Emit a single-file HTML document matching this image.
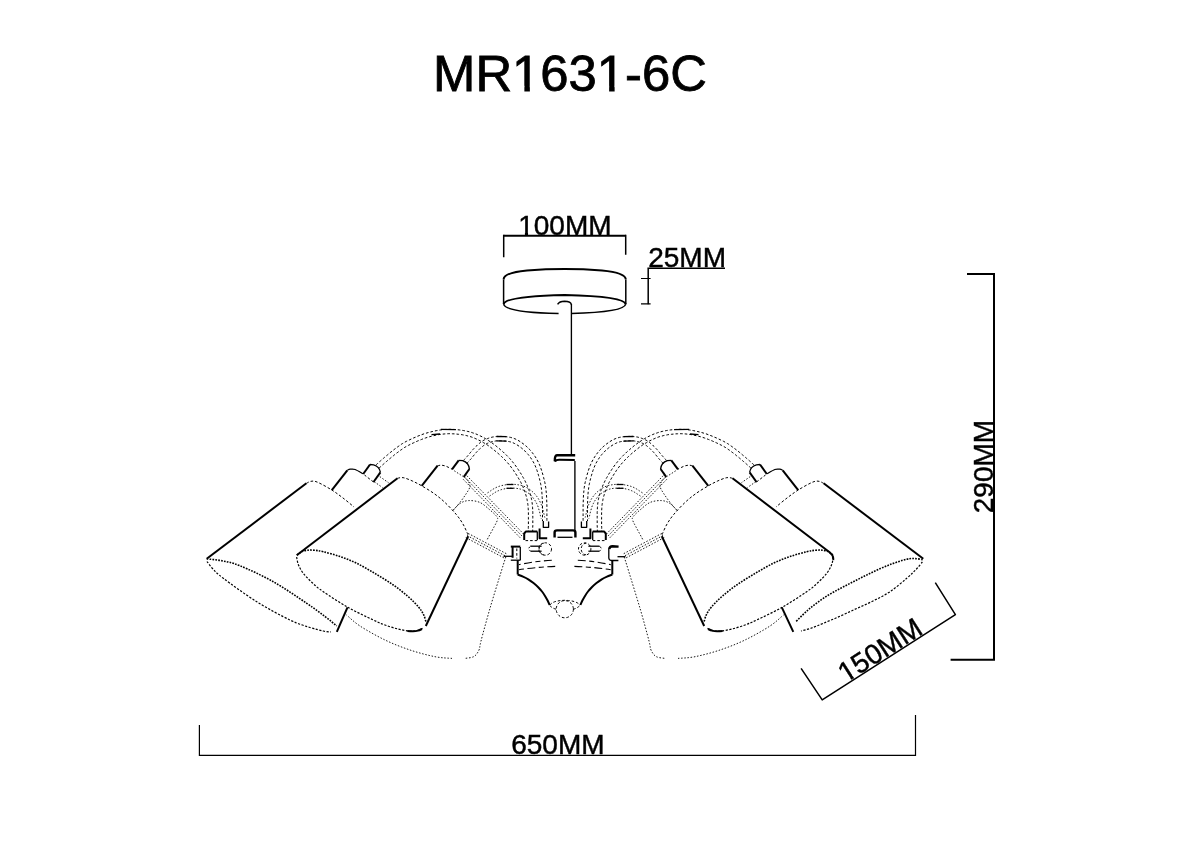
<!DOCTYPE html>
<html><head><meta charset="utf-8"><title>MR1631-6C</title>
<style>
html,body{margin:0;padding:0;background:#fff;}
body{width:1200px;height:848px;overflow:hidden;position:relative;font-family:"Liberation Sans",sans-serif;color:#000;}
svg{position:absolute;left:0;top:0;display:block;filter:grayscale(1);}
path,circle{fill:none;stroke:#000;stroke-linecap:butt;stroke-linejoin:round;}
.b{stroke-width:2;}
.bb{stroke-width:2.4;}
.m{stroke-width:1.3;}
.r{stroke-width:1.5;}
.rr{stroke-width:1.35;}
.h{stroke-width:1;stroke-dasharray:2.6 2;}
.hl{stroke-width:1.1;stroke-dasharray:8 3.5 5 3.5;}
.h2{stroke-width:.9;stroke-dasharray:1.5 1.7;}
.d{stroke-width:1.6;stroke-dasharray:1.7 1.2;}
.dl{stroke-width:1.2;stroke-dasharray:2.2 1.5;}
.dim{stroke-width:2;}
.dim1{stroke-width:1.2;}
text{font-family:"Liberation Sans",sans-serif;fill:#000;stroke:#000;stroke-width:.45;}
text.t{stroke-width:.8;}
rect.w{fill:#fff;stroke:none;}
</style></head><body>
<svg width="1200" height="848" viewBox="0 0 1200 848">
<rect x="0" y="0" width="1200" height="848" fill="#fff" stroke="none"/>
<text class="t" x="433.1" y="91.3" font-size="50.8">MR1631-6C</text><rect class="w" x="514.37" y="85.80" width="10.00" height="7.00"/><rect class="w" x="529.87" y="85.80" width="9.61" height="7.00"/><rect class="w" x="599.13" y="85.80" width="10.00" height="7.00"/><rect class="w" x="614.62" y="85.80" width="9.61" height="7.00"/>
<!-- 100MM -->
<text x="518.2" y="235" font-size="28">100MM</text><rect class="w" x="518.73" y="231.38" width="6.18" height="4.94"/><rect class="w" x="528.04" y="231.38" width="5.96" height="4.94"/>
<path class="dim" d="M503.5 235.8 L625.8 235.8"/>
<path class="r" d="M503.7 234.8 L503.7 257.3 M625.7 234.8 L625.7 254.8"/>
<!-- 25MM -->
<text x="648.2" y="266.6" font-size="28">25MM</text>
<path class="r" d="M647.4 268.2 L725 268.2 M648.2 268.2 L648.2 304.2"/>
<path class="dim1" d="M641 278.5 L650.6 278.5 M641 303.8 L650.6 303.8"/>
<!-- 290MM -->
<path class="dim" d="M967 274 L995 274 M994 273 L994 660.6 M950.6 659.7 L995 659.7"/>
<g transform="translate(992.6 513.2) rotate(-90)"><text x="0" y="0" font-size="28">290MM</text></g>
<!-- 650MM -->
<path class="dim1" d="M199.4 725 L199.4 756 M199 755.4 L916 755.4 M915.5 715 L915.5 756"/>
<text x="511.2" y="753.8" font-size="28">650MM</text>
<!-- 150MM -->
<g transform="translate(845.7 683.3) rotate(-32.6)"><text x="0" y="0" font-size="28">150MM</text><rect class="w" x="0.53" y="-3.62" width="6.18" height="4.94"/><rect class="w" x="9.84" y="-3.62" width="5.96" height="4.94"/></g>
<path class="r" d="M801.1 668.3 L822.2 699.9 L955.4 614.6 L935.3 582.6"/>
<!-- drawing -->
<path class="h" d="M379 468.1 L379.5 467.7 L380.1 467.1 L380.8 466.5 L381.7 465.7 L382.6 464.9 L383.5 464.1 L384.5 463.2 L385.5 462.3 L386.5 461.5 L387.4 460.7 L388.4 459.9 L389.4 459 L390.4 458.2 L391.4 457.3 L392.5 456.4 L393.6 455.6 L394.6 454.7 L395.7 453.9 L396.7 453.1 L397.8 452.3 L398.9 451.5 L399.9 450.8 L400.8 450 L401.8 449.4 L402.7 448.7 L403.7 448 L404.7 447.4 L405.9 446.7 L407.1 446 L408.5 445.3 L410.1 444.5 L411.7 443.7 L413.6 442.8 L415.4 442 L417.4 441.1 L419.4 440.3 L421.4 439.5 L423.4 438.7 L425.4 438 L427.3 437.4 L429.3 436.8 L431.2 436.3 L433.2 435.8 L435.1 435.4 L437.1 435 L439 434.6 L441 434.3 L442.9 434.1 L444.9 433.9 L446.8 433.8 L448.8 433.7 L450.7 433.7 L452.7 433.8 L454.7 433.9 L456.7 434.1 L458.7 434.3 L460.7 434.5 L462.6 434.8 L464.4 435.2 L466.2 435.5 L467.9 436 L469.6 436.4 L471.2 436.9 L472.8 437.5 L474.4 438.1 L475.9 438.8 L477.4 439.4 L478.9 440.2 L480.4 440.9 L481.9 441.7 L483.4 442.6 L484.9 443.4 L486.3 444.3 L487.8 445.3 L489.2 446.3 L490.6 447.3 L492 448.4 L493.4 449.5 L494.7 450.6 L496.1 451.7 L497.4 452.8 L498.8 454 L500.1 455.2 L501.4 456.4 L502.7 457.6 L504 458.9 L505.2 460.2 L506.4 461.5 L507.6 462.8 L508.8 464.2 L510 465.6 L511.1 467.1 L512.2 468.6 L513.4 470.2 L514.4 471.8 L515.5 473.4 L516.5 475 L517.5 476.5 L518.4 478.1 L519.3 479.6 L520.1 481 L520.9 482.5 L521.6 483.9 L522.2 485.3 L522.9 486.7 L523.5 488.1 L524 489.4 L524.6 490.8 L525 492.2 L525.5 493.7 L525.9 495.1 L526.3 496.4 L526.7 497.7 L527 499.1 L527.2 500.4 L527.5 501.8 L527.7 503.2 L527.9 504.7 L528.1 506.4 L528.2 508.2 L528.3 510.2 L528.4 512.5 L528.4 515.1 L528.4 517.7 L528.4 520.4 L528.4 523 L528.4 525.5 L528.3 527.7 L528.3 529.6 L528.3 531"/>
<path class="h" d="M751 468.1 L750.5 467.7 L749.9 467.1 L749.2 466.5 L748.3 465.7 L747.4 464.9 L746.5 464.1 L745.5 463.2 L744.5 462.3 L743.5 461.5 L742.6 460.7 L741.6 459.9 L740.6 459 L739.6 458.2 L738.6 457.3 L737.5 456.4 L736.4 455.6 L735.4 454.7 L734.3 453.9 L733.3 453.1 L732.2 452.3 L731.1 451.5 L730.1 450.8 L729.2 450 L728.2 449.4 L727.3 448.7 L726.3 448 L725.3 447.4 L724.1 446.7 L722.9 446 L721.5 445.3 L719.9 444.5 L718.3 443.7 L716.4 442.8 L714.6 442 L712.6 441.1 L710.6 440.3 L708.6 439.5 L706.6 438.7 L704.6 438 L702.7 437.4 L700.7 436.8 L698.8 436.3 L696.8 435.8 L694.9 435.4 L692.9 435 L691 434.6 L689 434.3 L687.1 434.1 L685.1 433.9 L683.2 433.8 L681.2 433.7 L679.3 433.7 L677.3 433.8 L675.3 433.9 L673.3 434.1 L671.3 434.3 L669.3 434.5 L667.4 434.8 L665.6 435.2 L663.8 435.5 L662.1 436 L660.4 436.4 L658.8 436.9 L657.2 437.5 L655.6 438.1 L654.1 438.8 L652.6 439.4 L651.1 440.2 L649.6 440.9 L648.1 441.7 L646.6 442.6 L645.1 443.4 L643.7 444.3 L642.2 445.3 L640.8 446.3 L639.4 447.3 L638 448.4 L636.6 449.5 L635.3 450.6 L633.9 451.7 L632.6 452.8 L631.2 454 L629.9 455.2 L628.6 456.4 L627.3 457.6 L626 458.9 L624.8 460.2 L623.6 461.5 L622.4 462.8 L621.2 464.2 L620 465.6 L618.9 467.1 L617.8 468.6 L616.6 470.2 L615.6 471.8 L614.5 473.4 L613.5 475 L612.5 476.5 L611.6 478.1 L610.7 479.6 L609.9 481 L609.1 482.5 L608.4 483.9 L607.8 485.3 L607.1 486.7 L606.5 488.1 L606 489.4 L605.4 490.8 L605 492.2 L604.5 493.7 L604.1 495.1 L603.7 496.4 L603.3 497.7 L603 499.1 L602.8 500.4 L602.5 501.8 L602.3 503.2 L602.1 504.7 L601.9 506.4 L601.8 508.2 L601.7 510.2 L601.6 512.5 L601.6 515.1 L601.6 517.7 L601.6 520.4 L601.6 523 L601.6 525.5 L601.7 527.7 L601.7 529.6 L601.7 531"/>
<path class="h" d="M376 464.9 L376.5 464.4 L377.2 463.9 L377.9 463.2 L378.7 462.4 L379.6 461.6 L380.6 460.8 L381.6 459.9 L382.6 459 L383.6 458.2 L384.6 457.3 L385.5 456.5 L386.5 455.7 L387.6 454.8 L388.6 453.9 L389.7 453 L390.8 452.1 L391.9 451.3 L393 450.4 L394.1 449.5 L395.2 448.7 L396.2 448 L397.2 447.2 L398.2 446.5 L399.2 445.8 L400.2 445.1 L401.3 444.3 L402.4 443.6 L403.7 442.9 L405 442.1 L406.5 441.3 L408.1 440.5 L409.9 439.7 L411.7 438.8 L413.7 437.9 L415.7 437.1 L417.7 436.2 L419.8 435.4 L421.9 434.6 L424 433.8 L426.1 433.2 L428.1 432.6 L430.1 432.1 L432.1 431.6 L434.2 431.1 L436.2 430.7 L438.3 430.3 L440.4 430 L442.4 429.7 L444.5 429.5 L446.6 429.4 L448.7 429.3 L450.8 429.3 L452.9 429.4 L455 429.5 L457.1 429.7 L459.2 429.9 L461.3 430.2 L463.3 430.5 L465.3 430.9 L467.2 431.3 L469 431.7 L470.9 432.2 L472.6 432.8 L474.3 433.4 L476 434 L477.7 434.7 L479.3 435.5 L480.9 436.2 L482.5 437 L484.1 437.9 L485.6 438.7 L487.2 439.7 L488.7 440.7 L490.2 441.7 L491.7 442.7 L493.2 443.8 L494.7 444.9 L496.1 446 L497.5 447.2 L498.9 448.3 L500.3 449.5 L501.7 450.7 L503.1 451.9 L504.4 453.2 L505.8 454.5 L507.1 455.8 L508.4 457.1 L509.7 458.5 L511 459.9 L512.2 461.4 L513.4 462.9 L514.6 464.4 L515.8 466 L517 467.7 L518.1 469.3 L519.2 471 L520.2 472.6 L521.3 474.2 L522.2 475.9 L523.1 477.4 L524 478.9 L524.8 480.5 L525.5 481.9 L526.2 483.4 L526.9 484.9 L527.5 486.4 L528.1 487.9 L528.7 489.3 L529.2 490.8 L529.7 492.3 L530.1 493.8 L530.6 495.3 L530.9 496.7 L531.3 498.1 L531.6 499.6 L531.8 501 L532.1 502.6 L532.3 504.2 L532.4 506 L532.6 507.8 L532.7 510 L532.8 512.4 L532.8 515 L532.8 517.7 L532.8 520.5 L532.8 523.1 L532.8 525.6 L532.7 527.8 L532.7 529.6 L532.7 531"/>
<path class="h" d="M754 464.9 L753.5 464.4 L752.8 463.9 L752.1 463.2 L751.3 462.4 L750.4 461.6 L749.4 460.8 L748.4 459.9 L747.4 459 L746.4 458.2 L745.4 457.3 L744.5 456.5 L743.5 455.7 L742.4 454.8 L741.4 453.9 L740.3 453 L739.2 452.1 L738.1 451.3 L737 450.4 L735.9 449.5 L734.8 448.7 L733.8 448 L732.8 447.2 L731.8 446.5 L730.8 445.8 L729.8 445.1 L728.7 444.3 L727.6 443.6 L726.3 442.9 L725 442.1 L723.5 441.3 L721.9 440.5 L720.1 439.7 L718.3 438.8 L716.3 437.9 L714.3 437.1 L712.3 436.2 L710.2 435.4 L708.1 434.6 L706 433.8 L703.9 433.2 L701.9 432.6 L699.9 432.1 L697.9 431.6 L695.8 431.1 L693.8 430.7 L691.7 430.3 L689.6 430 L687.6 429.7 L685.5 429.5 L683.4 429.4 L681.3 429.3 L679.2 429.3 L677.1 429.4 L675 429.5 L672.9 429.7 L670.8 429.9 L668.7 430.2 L666.7 430.5 L664.7 430.9 L662.8 431.3 L661 431.7 L659.1 432.2 L657.4 432.8 L655.7 433.4 L654 434 L652.3 434.7 L650.7 435.5 L649.1 436.2 L647.5 437 L645.9 437.9 L644.4 438.7 L642.8 439.7 L641.3 440.7 L639.8 441.7 L638.3 442.7 L636.8 443.8 L635.3 444.9 L633.9 446 L632.5 447.2 L631.1 448.3 L629.7 449.5 L628.3 450.7 L626.9 451.9 L625.6 453.2 L624.2 454.5 L622.9 455.8 L621.6 457.1 L620.3 458.5 L619 459.9 L617.8 461.4 L616.6 462.9 L615.4 464.4 L614.2 466 L613 467.7 L611.9 469.3 L610.8 471 L609.8 472.6 L608.7 474.2 L607.8 475.9 L606.9 477.4 L606 478.9 L605.2 480.5 L604.5 481.9 L603.8 483.4 L603.1 484.9 L602.5 486.4 L601.9 487.9 L601.3 489.3 L600.8 490.8 L600.3 492.3 L599.9 493.8 L599.4 495.3 L599.1 496.7 L598.7 498.1 L598.4 499.6 L598.2 501 L597.9 502.6 L597.7 504.2 L597.6 506 L597.4 507.8 L597.3 510 L597.2 512.4 L597.2 515 L597.2 517.7 L597.2 520.5 L597.2 523.1 L597.2 525.6 L597.3 527.8 L597.3 529.6 L597.3 531"/>
<path class="h" d="M466.6 463.5 L466.8 463.3 L467.1 463 L467.5 462.6 L467.8 462.2 L468.3 461.8 L468.7 461.3 L469.2 460.7 L469.8 460.2 L470.3 459.6 L470.9 458.9 L471.5 458.3 L472.1 457.5 L472.7 456.7 L473.4 455.9 L474.1 455 L474.8 454.2 L475.5 453.3 L476.2 452.5 L476.9 451.8 L477.6 451 L478.3 450.3 L479 449.6 L479.7 448.9 L480.4 448.3 L481.1 447.6 L481.9 447 L482.6 446.4 L483.3 445.8 L484 445.3 L484.7 444.9 L485.4 444.4 L486.1 444 L486.8 443.6 L487.5 443.3 L488.2 443 L489 442.7 L489.7 442.4 L490.4 442.2 L491.2 441.9 L492 441.7 L492.9 441.5 L493.7 441.3 L494.5 441.2 L495.4 441 L496.2 440.9 L497.1 440.8 L498 440.8 L498.9 440.8 L499.9 440.8 L500.9 440.8 L502 440.9 L503.2 440.9 L504.5 441 L505.7 441.1 L507 441.3 L508.3 441.5 L509.6 441.7 L510.8 442 L512 442.4 L513.1 442.8 L514.3 443.4 L515.5 444 L516.8 444.7 L518 445.5 L519.2 446.3 L520.4 447.2 L521.6 448.1 L522.8 449.1 L523.9 450.1 L525 451.1 L526 452.1 L527 453.2 L528 454.3 L528.9 455.4 L529.8 456.6 L530.7 457.8 L531.5 459.1 L532.3 460.4 L533.1 461.7 L533.9 463 L534.5 464.4 L535.2 465.8 L535.8 467.3 L536.4 468.9 L537 470.4 L537.5 472 L538 473.7 L538.5 475.3 L538.9 476.9 L539.4 478.5 L539.8 480.1 L540.1 481.7 L540.5 483.2 L540.8 484.7 L541.1 486.2 L541.3 487.8 L541.5 489.5 L541.8 491.2 L541.9 493.1 L542.1 495.2 L542.2 497.5 L542.3 500.1 L542.4 503 L542.5 506 L542.5 509.1 L542.5 512 L542.5 514.8 L542.5 517.3 L542.5 519.4 L542.5 521"/>
<path class="h" d="M663.4 463.5 L663.2 463.3 L662.9 463 L662.5 462.6 L662.2 462.2 L661.7 461.8 L661.3 461.3 L660.8 460.7 L660.2 460.2 L659.7 459.6 L659.1 458.9 L658.5 458.3 L657.9 457.5 L657.3 456.7 L656.6 455.9 L655.9 455 L655.2 454.2 L654.5 453.3 L653.8 452.5 L653.1 451.8 L652.4 451 L651.7 450.3 L651 449.6 L650.3 448.9 L649.6 448.3 L648.9 447.6 L648.1 447 L647.4 446.4 L646.7 445.8 L646 445.3 L645.3 444.9 L644.6 444.4 L643.9 444 L643.2 443.6 L642.5 443.3 L641.8 443 L641 442.7 L640.3 442.4 L639.6 442.2 L638.8 441.9 L638 441.7 L637.1 441.5 L636.3 441.3 L635.5 441.2 L634.6 441 L633.8 440.9 L632.9 440.8 L632 440.8 L631.1 440.8 L630.1 440.8 L629.1 440.8 L628 440.9 L626.8 440.9 L625.5 441 L624.3 441.1 L623 441.3 L621.7 441.5 L620.4 441.7 L619.2 442 L618 442.4 L616.9 442.8 L615.7 443.4 L614.5 444 L613.2 444.7 L612 445.5 L610.8 446.3 L609.6 447.2 L608.4 448.1 L607.2 449.1 L606.1 450.1 L605 451.1 L604 452.1 L603 453.2 L602 454.3 L601.1 455.4 L600.2 456.6 L599.3 457.8 L598.5 459.1 L597.7 460.4 L596.9 461.7 L596.1 463 L595.5 464.4 L594.8 465.8 L594.2 467.3 L593.6 468.9 L593 470.4 L592.5 472 L592 473.7 L591.5 475.3 L591.1 476.9 L590.6 478.5 L590.2 480.1 L589.9 481.7 L589.5 483.2 L589.2 484.7 L588.9 486.2 L588.7 487.8 L588.5 489.5 L588.2 491.2 L588.1 493.1 L587.9 495.2 L587.8 497.5 L587.7 500.1 L587.6 503 L587.5 506 L587.5 509.1 L587.5 512 L587.5 514.8 L587.5 517.3 L587.5 519.4 L587.5 521"/>
<path class="h" d="M463.4 460.5 L463.6 460.2 L463.9 459.9 L464.3 459.6 L464.7 459.2 L465.1 458.7 L465.5 458.3 L466 457.8 L466.5 457.2 L467 456.6 L467.5 456.1 L468.1 455.4 L468.7 454.7 L469.3 453.9 L470 453.1 L470.7 452.2 L471.4 451.4 L472.2 450.5 L472.9 449.6 L473.7 448.8 L474.4 448 L475.2 447.2 L475.9 446.5 L476.7 445.8 L477.4 445 L478.2 444.3 L479 443.6 L479.8 443 L480.6 442.3 L481.5 441.7 L482.3 441.1 L483.1 440.6 L484 440.2 L484.8 439.7 L485.7 439.3 L486.5 438.9 L487.4 438.6 L488.3 438.3 L489.1 438 L490 437.7 L491 437.5 L491.9 437.2 L492.8 437 L493.7 436.9 L494.7 436.7 L495.7 436.6 L496.7 436.5 L497.7 436.4 L498.8 436.4 L499.9 436.4 L501.1 436.4 L502.3 436.5 L503.5 436.5 L504.8 436.6 L506.2 436.7 L507.6 436.9 L509 437.1 L510.5 437.4 L512 437.8 L513.4 438.2 L514.9 438.8 L516.3 439.4 L517.6 440.1 L519 440.9 L520.4 441.8 L521.7 442.7 L523.1 443.7 L524.4 444.7 L525.6 445.7 L526.9 446.8 L528 447.9 L529.2 449.1 L530.3 450.2 L531.3 451.4 L532.3 452.7 L533.3 454 L534.3 455.3 L535.2 456.7 L536.1 458.1 L536.9 459.5 L537.7 461 L538.5 462.5 L539.2 464.1 L539.9 465.7 L540.5 467.3 L541.1 469 L541.7 470.7 L542.2 472.4 L542.7 474.1 L543.2 475.8 L543.6 477.5 L544 479.1 L544.4 480.7 L544.8 482.3 L545.1 483.9 L545.4 485.5 L545.7 487.2 L545.9 488.9 L546.1 490.8 L546.3 492.7 L546.5 494.8 L546.6 497.2 L546.7 500 L546.8 502.9 L546.9 506 L546.9 509.1 L546.9 512 L546.9 514.8 L546.9 517.3 L546.9 519.4 L546.9 521"/>
<path class="h" d="M666.6 460.5 L666.4 460.2 L666.1 459.9 L665.7 459.6 L665.3 459.2 L664.9 458.7 L664.5 458.3 L664 457.8 L663.5 457.2 L663 456.6 L662.5 456.1 L661.9 455.4 L661.3 454.7 L660.7 453.9 L660 453.1 L659.3 452.2 L658.6 451.4 L657.8 450.5 L657.1 449.6 L656.3 448.8 L655.6 448 L654.8 447.2 L654.1 446.5 L653.3 445.8 L652.6 445 L651.8 444.3 L651 443.6 L650.2 443 L649.4 442.3 L648.5 441.7 L647.7 441.1 L646.9 440.6 L646 440.2 L645.2 439.7 L644.3 439.3 L643.5 438.9 L642.6 438.6 L641.7 438.3 L640.9 438 L640 437.7 L639 437.5 L638.1 437.2 L637.2 437 L636.3 436.9 L635.3 436.7 L634.3 436.6 L633.3 436.5 L632.3 436.4 L631.2 436.4 L630.1 436.4 L628.9 436.4 L627.7 436.5 L626.5 436.5 L625.2 436.6 L623.8 436.7 L622.4 436.9 L621 437.1 L619.5 437.4 L618 437.8 L616.6 438.2 L615.1 438.8 L613.7 439.4 L612.4 440.1 L611 440.9 L609.6 441.8 L608.3 442.7 L606.9 443.7 L605.6 444.7 L604.4 445.7 L603.1 446.8 L602 447.9 L600.8 449.1 L599.7 450.2 L598.7 451.4 L597.7 452.7 L596.7 454 L595.7 455.3 L594.8 456.7 L593.9 458.1 L593.1 459.5 L592.3 461 L591.5 462.5 L590.8 464.1 L590.1 465.7 L589.5 467.3 L588.9 469 L588.3 470.7 L587.8 472.4 L587.3 474.1 L586.8 475.8 L586.4 477.5 L586 479.1 L585.6 480.7 L585.2 482.3 L584.9 483.9 L584.6 485.5 L584.3 487.2 L584.1 488.9 L583.9 490.8 L583.7 492.7 L583.5 494.8 L583.4 497.2 L583.3 500 L583.2 502.9 L583.1 506 L583.1 509.1 L583.1 512 L583.1 514.8 L583.1 517.3 L583.1 519.4 L583.1 521"/>
<path class="h2" d="M489.5 496.1 L490.1 495.7 L490.8 495.2 L491.7 494.7 L492.6 494.1 L493.6 493.4 L494.6 492.7 L495.7 492.1 L496.7 491.5 L497.7 491 L498.7 490.6 L499.7 490.2 L500.7 489.8 L501.8 489.5 L502.9 489.2 L504 489 L505.1 488.7 L506.2 488.5 L507.3 488.4 L508.5 488.3 L509.6 488.2 L510.8 488.2 L512 488.1 L513.2 488.2 L514.4 488.2 L515.7 488.3 L516.9 488.4 L518.1 488.6 L519.2 488.8 L520.4 489.1 L521.4 489.4 L522.4 489.8 L523.4 490.2 L524.4 490.7 L525.4 491.2 L526.3 491.8 L527.3 492.4 L528.2 493 L529 493.7 L529.9 494.4 L530.7 495.2 L531.5 496 L532.2 496.8 L532.9 497.6 L533.6 498.5 L534.3 499.5 L535 500.5 L535.6 501.5 L536.2 502.6 L536.7 503.6 L537.3 504.8 L537.8 506 L538.3 507.4 L538.7 508.9 L539.2 510.5 L539.6 512.1 L540 513.7 L540.3 515.2 L540.7 516.5 L540.9 517.6 L541.2 518.5"/>
<path class="h2" d="M640.5 496.1 L639.9 495.7 L639.2 495.2 L638.3 494.7 L637.4 494.1 L636.4 493.4 L635.4 492.7 L634.3 492.1 L633.3 491.5 L632.3 491 L631.3 490.6 L630.3 490.2 L629.3 489.8 L628.2 489.5 L627.1 489.2 L626 489 L624.9 488.7 L623.8 488.5 L622.7 488.4 L621.5 488.3 L620.4 488.2 L619.2 488.2 L618 488.1 L616.8 488.2 L615.6 488.2 L614.3 488.3 L613.1 488.4 L611.9 488.6 L610.8 488.8 L609.6 489.1 L608.6 489.4 L607.6 489.8 L606.6 490.2 L605.6 490.7 L604.6 491.2 L603.7 491.8 L602.7 492.4 L601.8 493 L601 493.7 L600.1 494.4 L599.3 495.2 L598.5 496 L597.8 496.8 L597.1 497.6 L596.4 498.5 L595.7 499.5 L595 500.5 L594.4 501.5 L593.8 502.6 L593.3 503.6 L592.7 504.8 L592.2 506 L591.7 507.4 L591.3 508.9 L590.8 510.5 L590.4 512.1 L590 513.7 L589.7 515.2 L589.3 516.5 L589.1 517.6 L588.8 518.5"/>
<path class="h2" d="M487.5 492.9 L488 492.6 L488.7 492.1 L489.5 491.5 L490.5 490.9 L491.5 490.2 L492.6 489.5 L493.7 488.8 L494.9 488.2 L496.1 487.5 L497.3 487 L498.4 486.6 L499.6 486.2 L500.7 485.9 L501.9 485.5 L503.2 485.3 L504.4 485 L505.6 484.8 L506.9 484.6 L508.1 484.5 L509.4 484.4 L510.7 484.4 L512 484.3 L513.3 484.4 L514.7 484.4 L516 484.5 L517.4 484.7 L518.7 484.9 L520 485.1 L521.3 485.4 L522.6 485.8 L523.8 486.2 L525 486.7 L526.1 487.3 L527.3 487.9 L528.4 488.5 L529.4 489.2 L530.4 490 L531.4 490.8 L532.4 491.6 L533.3 492.4 L534.2 493.3 L535.1 494.3 L535.9 495.3 L536.7 496.3 L537.4 497.3 L538.2 498.4 L538.9 499.6 L539.5 500.8 L540.1 502 L540.7 503.2 L541.3 504.6 L541.9 506.2 L542.4 507.8 L542.8 509.5 L543.3 511.2 L543.7 512.8 L544 514.3 L544.4 515.6 L544.6 516.7 L544.8 517.5"/>
<path class="h2" d="M642.5 492.9 L642 492.6 L641.3 492.1 L640.5 491.5 L639.5 490.9 L638.5 490.2 L637.4 489.5 L636.3 488.8 L635.1 488.2 L633.9 487.5 L632.7 487 L631.6 486.6 L630.4 486.2 L629.3 485.9 L628.1 485.5 L626.8 485.3 L625.6 485 L624.4 484.8 L623.1 484.6 L621.9 484.5 L620.6 484.4 L619.3 484.4 L618 484.3 L616.7 484.4 L615.3 484.4 L614 484.5 L612.6 484.7 L611.3 484.9 L610 485.1 L608.7 485.4 L607.4 485.8 L606.2 486.2 L605 486.7 L603.9 487.3 L602.7 487.9 L601.6 488.5 L600.6 489.2 L599.6 490 L598.6 490.8 L597.6 491.6 L596.7 492.4 L595.8 493.3 L594.9 494.3 L594.1 495.3 L593.3 496.3 L592.6 497.3 L591.8 498.4 L591.1 499.6 L590.5 500.8 L589.9 502 L589.3 503.2 L588.7 504.6 L588.1 506.2 L587.6 507.8 L587.2 509.5 L586.7 511.2 L586.3 512.8 L586 514.3 L585.6 515.6 L585.4 516.7 L585.2 517.5"/>
<path class="m" d="M440.8 429.4 L455.8 429.6"/>
<path class="m" d="M689.2 429.4 L674.2 429.6"/>
<path class="m" d="M431.5 434.6 L440 434"/>
<path class="m" d="M698.5 434.6 L690 434"/>
<path class="m" d="M496.5 436.5 L506.5 436.7"/>
<path class="m" d="M633.5 436.5 L623.5 436.7"/>
<path class="m" d="M496.5 440.9 L506.5 441.1"/>
<path class="m" d="M633.5 440.9 L623.5 441.1"/>
<path class="m" d="M506.5 484.5 L513.5 484.5"/>
<path class="m" d="M623.5 484.5 L616.5 484.5"/>
<path class="m" d="M506.5 488.3 L513.5 488.3"/>
<path class="m" d="M623.5 488.3 L616.5 488.3"/>
<path class="h2" d="M463.2 479.3 L520.2 537.8"/>
<path class="h2" d="M666.8 479.3 L609.8 537.8"/>
<path class="h2" d="M465 477.5 L522 536"/>
<path class="h2" d="M665 477.5 L608 536"/>
<path class="h2" d="M466.8 475.7 L523.8 534.2"/>
<path class="h2" d="M663.2 475.7 L606.2 534.2"/>
<path class="h2" d="M468.2 533.4 L507.7 554.4"/>
<path class="h2" d="M661.8 533.4 L622.3 554.4"/>
<path class="h2" d="M467 535.5 L506.5 556.5"/>
<path class="h2" d="M663 535.5 L623.5 556.5"/>
<path class="h2" d="M465.8 537.6 L505.3 558.6"/>
<path class="h2" d="M664.2 537.6 L624.7 558.6"/>
<path class="h2" d="M452.7 510.7 C453.9 509.5 457.4 505.2 460 503.5 C462.6 501.8 465 500.8 468.3 500.6 C471.6 500.4 476.4 500.9 480 502.5 C483.6 504.1 487.2 507.7 490 510 C492.8 512.3 495.5 514.8 496.7 516.5 C497.9 518.2 497.8 518.2 497.4 520 C496.9 521.8 495.8 523.6 494 527 C492.2 530.4 487.9 538.2 486.7 540.5"/>
<path class="h2" d="M677.3 510.7 C676.1 509.5 672.6 505.2 670 503.5 C667.4 501.8 665 500.8 661.7 500.6 C658.4 500.4 653.6 500.9 650 502.5 C646.4 504.1 642.8 507.7 640 510 C637.2 512.3 634.5 514.8 633.3 516.5 C632.1 518.2 632.1 518.2 632.6 520 C633.1 521.8 634.2 523.6 636 527 C637.8 530.4 642.1 538.2 643.3 540.5"/>
<path class="h2" d="M505.8 557 C505.1 559.2 504.3 561.5 501.7 570 C499.1 578.5 493.4 596.5 490 608.3 C486.6 620.1 482.8 634 481 641 C479.2 648 480.2 647.4 479 650 C477.8 652.6 476.3 655.1 474 656.5 C471.7 657.9 466.5 658.1 465 658.4"/>
<path class="h2" d="M624.2 557 C624.9 559.2 625.7 561.5 628.3 570 C630.9 578.5 636.5 596.5 640 608.3 C643.5 620.1 647.2 634 649 641 C650.8 648 649.8 647.4 651 650 C652.2 652.6 653.7 655.1 656 656.5 C658.3 657.9 663.5 658.1 665 658.4"/>
<path class="h2" d="M452 658.4 C449.2 658.1 442 658.1 435 656.7 C428 655.3 418.3 652.8 410 650 C401.7 647.2 393.3 644 385 640 C376.7 636 366.4 630.2 360 626 C353.6 621.8 348.8 616.8 346.5 615"/>
<path class="h2" d="M678 658.4 C680.8 658.1 688 658.1 695 656.7 C702 655.3 711.7 652.8 720 650 C728.3 647.2 736.7 644 745 640 C753.3 636 763.6 630.2 770 626 C776.4 621.8 781.2 616.8 783.5 615"/>
<path class="b" d="M206.7 558.7 L306.4 483.3"/>
<path class="b" d="M923.3 558.7 L823.6 483.3"/>
<path class="h" d="M306.4 483.3 C307.2 483 309.2 481.5 311 481.3 C312.8 481.1 313.5 480.6 317 482 C320.5 483.4 327.5 487.3 331.8 490 C336.1 492.7 339.3 495.2 343 498 C346.7 500.8 352.2 505.5 354 507"/>
<path class="h" d="M823.6 483.3 C822.8 483 820.8 481.5 819 481.3 C817.2 481.1 816.5 480.6 813 482 C809.5 483.4 802.5 487.3 798.2 490 C793.9 492.7 790.7 495.2 787 498 C783.3 500.8 777.8 505.5 776 507"/>
<path class="b" d="M331.8 490.2 L347.3 470.3"/>
<path class="b" d="M798.2 490.2 L782.7 470.3"/>
<path class="m" d="M347.3 470.3 C347.8 470.1 348.9 469.3 350.2 469.2 C351.5 469.1 353.1 468.7 355.2 469.5 C357.3 470.3 361.7 473.1 363 473.8"/>
<path class="m" d="M782.7 470.3 C782.2 470.1 781.1 469.3 779.8 469.2 C778.5 469.1 776.9 468.7 774.8 469.5 C772.7 470.3 768.3 473.1 767 473.8"/>
<path class="b" d="M363.2 474 L370 464.5"/>
<path class="b" d="M766.8 474 L760 464.5"/>
<path class="m" d="M370 464.5 L373.6 464.9 Q379.6 466.6 380.4 472.4"/>
<path class="m" d="M760 464.5 L756.4 464.9 Q750.4 466.6 749.6 472.4"/>
<path class="b" d="M380.4 472.4 L373.5 482"/>
<path class="b" d="M749.6 472.4 L756.5 482"/>
<path class="h" d="M373.5 482 L364.5 475"/>
<path class="h" d="M756.5 482 L765.5 475"/>
<path class="h2" d="M374.2 481.7 L382.5 487.5"/>
<path class="h2" d="M755.8 481.7 L747.5 487.5"/>
<path class="h2" d="M379.8 476.6 L388.5 482.7"/>
<path class="h2" d="M750.2 476.6 L741.5 482.7"/>
<path class="d" d="M206.7 558.9 C209.2 559.2 216.4 559.6 222 560.8 C227.6 561.9 231.4 562.3 240 565.8 C248.6 569.3 262.2 575.5 273.3 581.7 C284.4 588 298.1 597.5 306.7 603.3 C315.3 609.1 320 612.7 325 616.5 C330 620.3 334.8 624.4 336.7 626"/>
<path class="dl" d="M207 561.5 C208 562.8 210.3 566.2 213 569 C215.7 571.8 216 572.8 223.3 578.3 C230.6 583.8 245.6 594.8 256.7 601.7 C267.8 608.7 281.1 615.7 290 620 C298.9 624.3 304.4 625.7 310 627.5 C315.6 629.3 319.8 630.2 323.3 631 C326.8 631.8 329.7 631.8 331 632"/>
<path class="b" d="M347.5 607.3 L336.8 631.8"/>
<path class="d" d="M922.6 559.6 C921.3 559.4 917.6 558.7 915 558.6 C912.4 558.5 910.9 558.2 906.7 559.2 C902.5 560.2 895.6 562.5 890 564.6 C884.4 566.7 878.5 569.4 873 572 C867.5 574.6 862.2 577.2 856.7 580 C851.2 582.8 845.6 585.6 840 588.6 C834.4 591.6 828.6 594.7 823.3 598.3 C818 601.9 812.6 606 808 610 C803.4 614 797.6 620 795.5 622"/>
<path class="dl" d="M922.4 562 C921.3 563.2 918.6 566.8 916 569.5 C913.4 572.2 911 574.6 906.7 578.3 C902.4 582 895.6 587.9 890 591.7 C884.4 595.5 878.5 598.2 873 601 C867.5 603.8 862.2 606 856.7 608.5 C851.2 611 845.6 613.7 840 616.2 C834.4 618.7 828.1 621.3 823.3 623.3 C818.5 625.3 814.7 626.9 811 628.2 C807.3 629.5 802.7 630.5 801 631"/>
<path class="b" d="M781.8 607.3 L793.3 631.8"/>
<path class="b" d="M296.7 555.2 L397.5 478.3"/>
<path class="b" d="M732.5 478.3 L829.6 552.2 Q833.8 555.4 833.2 560"/>
<path class="h" d="M397.5 478.3 C398.1 478.2 399.8 477.6 401 477.6 C402.2 477.6 403 477.5 405 478.1 C407 478.7 410 479.9 412.8 481.2 C415.6 482.5 418.2 483.8 421.7 485.8 C425.2 487.9 430.1 490.7 434 493.5 C437.9 496.3 441.2 498.9 445 502.5 C448.8 506.1 453.6 511.2 456.7 515 C459.8 518.8 461.6 521.6 463.5 525 C465.4 528.4 467.5 533.8 468.3 535.5"/>
<path class="h" d="M732.5 478.3 C731.9 478.2 730.2 477.6 729 477.6 C727.8 477.6 727 477.5 725 478.1 C723 478.7 720 479.9 717.2 481.2 C714.4 482.5 711.8 483.8 708.3 485.8 C704.8 487.9 699.9 490.7 696 493.5 C692.1 496.3 688.8 498.9 685 502.5 C681.2 506.1 676.4 511.2 673.3 515 C670.2 518.8 668.4 521.6 666.5 525 C664.6 528.4 662.5 533.8 661.7 535.5"/>
<path class="b" d="M468.2 536.2 L425.8 626"/>
<path class="b" d="M661.8 536.2 L704.2 626"/>
<path class="d" d="M297 555 C297.7 554.5 299.4 552.8 301 552 C302.6 551.2 304.5 550.6 306.7 550.3 C308.9 550 311.2 550 314 550.2 C316.8 550.4 319 550.7 323.3 551.7 C327.6 552.8 334.4 554.6 340 556.5 C345.6 558.4 350.9 560.5 356.7 563.3 C362.5 566.1 368.9 569.9 375 573.5 C381.1 577.1 387.8 581.2 393.3 585 C398.8 588.8 403.8 592.9 408 596.5 C412.2 600.1 415.7 603.7 418.3 606.7 C420.9 609.7 422.2 612 423.5 614.5 C424.8 617 425.6 620.8 426 622"/>
<path class="d" d="M833 555 C832.3 554.5 830.6 552.8 829 552 C827.4 551.2 825.5 550.6 823.3 550.3 C821.1 550 818.8 550 816 550.2 C813.2 550.4 811 550.7 806.7 551.7 C802.4 552.8 795.6 554.6 790 556.5 C784.4 558.4 779.1 560.5 773.3 563.3 C767.5 566.1 761.1 569.9 755 573.5 C748.9 577.1 742.2 581.2 736.7 585 C731.2 588.8 726.2 592.9 722 596.5 C717.8 600.1 714.3 603.7 711.7 606.7 C709.1 609.7 707.8 612 706.5 614.5 C705.2 617 704.4 620.8 704 622"/>
<path class="dl" d="M296.6 557 C296.9 558.3 297.4 562.3 298.5 565 C299.6 567.7 301.1 570.4 303.3 573.3 C305.6 576.2 308.7 579.4 312 582.5 C315.3 585.6 317.2 587.5 323.3 591.7 C329.4 595.9 340 602.8 348.3 607.5 C356.6 612.2 367.2 617.1 373.3 620 C379.4 622.9 380.9 623.5 385 625 C389.1 626.5 393.8 628 398 629 C402.2 630 406.7 630.8 410 631 C413.3 631.2 415.8 630.8 418 630.3 C420.2 629.8 422.2 628.4 423 628"/>
<path class="dl" d="M833.4 557 C833.1 558.3 832.6 562.3 831.5 565 C830.4 567.7 829 570.4 826.7 573.3 C824.5 576.2 821.3 579.4 818 582.5 C814.7 585.6 812.8 587.5 806.7 591.7 C800.7 595.9 790 602.8 781.7 607.5 C773.4 612.2 762.8 617.1 756.7 620 C750.6 622.9 749.1 623.5 745 625 C740.9 626.5 736.2 628 732 629 C727.8 630 723.3 630.8 720 631 C716.7 631.2 714.2 630.8 712 630.3 C709.8 629.8 707.8 628.4 707 628"/>
<path class="b" d="M407.5 630.9 C408.4 631 411.2 631.2 413 631.2 C414.8 631.2 416.5 631 418 630.6 C419.5 630.2 421.3 629.3 422 629"/>
<path class="b" d="M722.5 630.9 C721.6 631 718.8 631.2 717 631.2 C715.2 631.2 713.5 631 712 630.6 C710.5 630.2 708.7 629.3 708 629"/>
<path class="b" d="M421.7 485.8 L437.6 465.7"/>
<path class="b" d="M708.3 485.8 L692.4 465.7"/>
<path class="h" d="M437.6 465.7 C438.2 465.6 440 465.1 441.5 465.2 C443 465.3 444.8 465.7 446.5 466.4 C448.2 467.1 451 468.7 451.9 469.2"/>
<path class="h" d="M692.4 465.7 C691.8 465.6 690 465.1 688.5 465.2 C687 465.3 685.2 465.7 683.5 466.4 C681.8 467.1 679 468.7 678.1 469.2"/>
<path class="b" d="M452 469.3 L458.7 460.4"/>
<path class="b" d="M678 469.3 L671.3 460.4"/>
<path class="m" d="M458.7 460.4 L462.6 460.6 Q468.9 462.6 469.4 469"/>
<path class="m" d="M671.3 460.4 L667.4 460.6 Q661.1 462.6 660.6 469"/>
<path class="b" d="M469.4 469 L463.8 476.8"/>
<path class="b" d="M660.6 469 L666.2 476.8"/>
<path class="h2" d="M463.6 476.8 L453.5 470.3"/>
<path class="h2" d="M666.4 476.8 L676.5 470.3"/>
<path class="h2" d="M464.3 477 C465 477.8 467.6 479.8 468.5 481.5 C469.4 483.2 470.2 484.9 469.8 487 C469.4 489.1 467.7 491.3 466 494 C464.3 496.7 461.7 500.2 459.5 503 C457.3 505.8 453.8 509.4 452.7 510.7"/>
<path class="h2" d="M665.7 477 C665 477.8 662.4 479.8 661.5 481.5 C660.6 483.2 659.8 484.9 660.2 487 C660.6 489.1 662.3 491.3 664 494 C665.7 496.7 668.3 500.2 670.5 503 C672.7 505.8 676.2 509.4 677.3 510.7"/>
<path class="b" d="M510.8 546.6 L520.3 546.6"/>
<path class="b" d="M512.6 546.6 L512.6 557.8"/>
<path class="m" d="M520.3 547 L520.3 560.2"/>
<path class="m" d="M510.8 560.2 L520.3 560.2"/>
<path class="h" d="M516.8 548.5 L516.8 558.5"/>
<path class="m" d="M503.5 556.3 L512.6 556.3"/>
<path class="bb" d="M609.2 549 Q609.6 546.4 612.5 546.3 L618.6 546.6"/>
<path class="m" d="M608.8 548.6 L608.8 558 Q609 560.4 611.5 560.5 L618.4 560.5"/>
<path class="m" d="M617.5 556.7 L625.5 556.7"/>
<path class="b" d="M524.2 540 L524.2 533.5 L526 531.4 L537.3 531.4"/>
<path class="b" d="M605.8 540 L605.8 533.5 L604 531.4 L592.7 531.4"/>
<path class="m" d="M537.3 531.4 L537.3 540.2"/>
<path class="m" d="M592.7 531.4 L592.7 540.2"/>
<path class="h" d="M525.5 540.6 L537 540.6"/>
<path class="h" d="M604.5 540.6 L593 540.6"/>
<path class="b" d="M539.6 528.5 L539.6 538.3 L547.2 538.3"/>
<path class="b" d="M590.4 528.5 L590.4 538.3 L582.8 538.3"/>
<path class="m" d="M543.3 521 L543.3 527.3 L548.6 527.3 L548.6 521.5"/>
<path class="m" d="M586.7 521 L586.7 527.3 L581.4 527.3 L581.4 521.5"/>
<circle class="h" cx="545.3" cy="549" r="6.2"/>
<path class="h" d="M543.8 543.2 A5 5.8 0 0 0 543.8 554.8"/>
<circle class="h" cx="584.7" cy="549" r="6.2"/>
<path class="h" d="M586.2 543.2 A5 5.8 0 0 0 586.2 554.8"/>
<path class="m" d="M530.5 546.2 L541.6 546.2"/>
<path class="m" d="M599.5 546.2 L588.4 546.2"/>
<path class="m" d="M530.5 551.2 L541.6 551.2"/>
<path class="m" d="M599.5 551.2 L588.4 551.2"/>
<path class="h" d="M530.5 546.2 C530.2 546.6 528.6 547.8 528.6 548.6 C528.6 549.4 530.2 550.8 530.5 551.2"/>
<path class="h" d="M599.5 546.2 C599.8 546.6 601.4 547.8 601.4 548.6 C601.4 549.4 599.8 550.8 599.5 551.2"/>
<path class="b" d="M517.7 560.2 L517.7 574.5"/>
<path class="b" d="M612.3 560.2 L612.3 574.5"/>
<path class="b" d="M517.7 574.5 C518.6 574.9 521.2 575.8 523 576.6 C524.8 577.4 526.5 578.2 528.3 579.3 C530 580.4 531.9 581.7 533.5 583 C535.1 584.3 536.8 585.8 538.2 587.2 C539.6 588.6 540.8 590 542 591.5 C543.2 593 544.4 594.9 545.3 596.4 C546.2 597.9 546.9 599.1 547.6 600.5 C548.3 601.9 549.3 604.2 549.6 605"/>
<path class="b" d="M612.3 574.5 C611.4 574.9 608.8 575.8 607 576.6 C605.2 577.4 603.5 578.2 601.7 579.3 C600 580.4 598.1 581.7 596.5 583 C594.9 584.3 593.2 585.8 591.8 587.2 C590.4 588.6 589.2 590 588 591.5 C586.8 593 585.6 594.9 584.7 596.4 C583.8 597.9 583.1 599.1 582.4 600.5 C581.7 601.9 580.7 604.2 580.4 605"/>
<path class="hl" d="M551.8 560.3 Q536 561 518.8 564.7"/>
<path class="hl" d="M577.8 560.3 Q594 561 610.8 564.7"/>
<path class="hl" d="M555.2 566.4 Q538 566.9 518.8 569.7"/>
<path class="hl" d="M574.4 566.4 Q592 566.9 610.8 569.7"/>
<path class="bb" d="M554.6 537.4 L554.6 532.4 Q554.6 530.4 557 530.4 L573 530.4 Q575.4 530.4 575.4 532.4 L575.4 537.4"/>
<path class="m" d="M557.5 537.3 L572.5 537.3"/>
<circle class="h" cx="564.8" cy="609.2" r="8.6"/>
<path class="h" d="M549.8 605 Q553 600.6 564.8 600.3 Q576.5 600.6 579.8 605"/>
<path class="h" d="M549.8 605.6 Q552.5 608.4 556.5 609.3"/>
<path class="h" d="M573 609.3 Q577 608.4 579.8 605.6"/>
<path class="rr" d="M571.4 304 L571.4 455"/>
<path class="rr" d="M574.9 461 L574.9 531"/>
<path class="bb" d="M575.2 455.3 L557 455.3 Q554.6 455.6 554.8 461.3"/>
<path class="b" d="M555 461.6 Q556 459.6 559.5 459.7 L574.8 459.9"/>
<path class="b" d="M503.6 279.4 Q503.8 272.6 527 270.4 Q564.7 267.6 602 270.4 Q625.6 272.6 625.8 279.4"/>
<path class="r" d="M503.6 279.4 L503.6 304.2"/>
<path class="r" d="M625.8 279.4 L625.8 304.2"/>
<path class="b" d="M503.7 304.2 Q505 296.2 564.7 294.9 Q624.5 296.2 625.7 304.2"/>
<path class="r" d="M558.6 313.5 Q505 312.3 503.7 304.2"/>
<path class="r" d="M625.7 304.2 Q624.5 312.1 571.4 313.6"/>
<path class="r" d="M557.6 304.4 Q559.5 301.3 564.5 301.3 Q570.8 301.5 571.4 304.6"/>
</svg>
</body></html>
